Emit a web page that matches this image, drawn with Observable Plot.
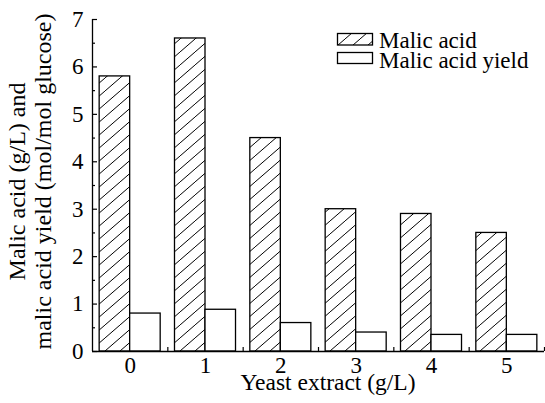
<!DOCTYPE html>
<html>
<head>
<meta charset="utf-8">
<script src="https://cdn.jsdelivr.net/npm/d3@7"></script>
<script src="https://cdn.jsdelivr.net/npm/@observablehq/plot@0.6"></script>
<style>
  html, body { margin: 0; padding: 0; background: #fff; }
  #chart svg { display: block; }
</style>
</head>
<body>
<div id="chart"></div>
<script>
// ---- data ----
const categories = [0, 1, 2, 3, 4, 5];               // Yeast extract (g/L)
const malicAcid = [5.8, 6.6, 4.5, 3.0, 2.9, 2.5];    // g/L
const malicAcidYield = [0.8, 0.88, 0.6, 0.4, 0.35, 0.35]; // mol/mol glucose
const yTickValues = [0, 1, 2, 3, 4, 5, 6, 7];
const yMinorTicks = [0.5, 1.5, 2.5, 3.5, 4.5, 5.5, 6.5];
const xBoundaryTicks = [0.5, 1.5, 2.5, 3.5, 4.5, 5.5];
const seriesNames = ["Malic acid", "Malic acid yield"];
const xTitle = "Yeast extract (g/L)";
const yTitleLines = ["Malic acid (g/L) and", "malic acid yield (mol/mol glucose)"];

const rows = categories.map((c, i) => ({cat: c, malic: malicAcid[i], yield: malicAcidYield[i]}));

const W = 545, H = 403;
const mL = 92, mR = 1, mT = 19, mB = 52;
const frameW = W - mL - mR, frameH = H - mT - mB;
const half = 0.405;
const FONT = "'Liberation Serif', 'Times New Roman', serif";

const chart = Plot.plot({
  width: W, height: H,
  marginLeft: mL, marginRight: mR, marginTop: mT, marginBottom: mB,
  style: {fontFamily: FONT, fontSize: "23px", color: "black", background: "white"},
  x: {domain: [-0.5, 5.5], axis: null},
  y: {domain: [0, 7], axis: null},
  marks: [
    Plot.rectY(rows, {x1: d => d.cat - half, x2: d => d.cat, y: "malic", fill: "url(#hatch)", stroke: "black", strokeWidth: 1.3}),
    Plot.rectY(rows, {x1: d => d.cat, x2: d => d.cat + half, y: "yield", fill: "white", stroke: "black", strokeWidth: 1.3}),
    Plot.ruleY(yTickValues, {insetRight: frameW - 5, stroke: "black", strokeWidth: 1.2}),
    Plot.ruleY(yMinorTicks, {insetRight: frameW - 3, stroke: "black", strokeWidth: 1.2}),
    Plot.ruleX(xBoundaryTicks, {insetTop: frameH - 4, stroke: "black", strokeWidth: 1.2}),
    Plot.ruleY([0], {stroke: "black", strokeWidth: 1.3}),
    Plot.ruleX([-0.5], {stroke: "black", strokeWidth: 1.3}),
    Plot.axisY({ticks: yTickValues, tickSize: 0, tickPadding: 9, label: null, fontSize: 23, tickFormat: d => String(d)}),
    Plot.axisX({ticks: categories, tickSize: 0, tickPadding: 5, label: null, tickFormat: d => String(d), fontSize: 23})
  ]
});

document.getElementById("chart").appendChild(chart);

const svg = d3.select(chart);
const defs = svg.insert("defs", ":first-child");
const pat = defs.append("pattern")
  .attr("id", "hatch")
  .attr("patternUnits", "userSpaceOnUse")
  .attr("width", 15).attr("height", 13);
pat.append("path")
  .attr("d", "M0,13 L15,0 M-15,13 L0,0 M15,13 L30,0")
  .attr("stroke", "black").attr("stroke-width", 1).attr("fill", "none");

// axis titles
svg.append("text")
  .attr("x", 328).attr("y", 390)
  .attr("text-anchor", "middle")
  .style("font-family", FONT).style("font-size", "23.5px")
  .text(xTitle);

const yt = svg.append("g").attr("transform", "translate(0,181.5) rotate(-90)")
  .style("font-family", FONT).style("font-size", "24px");
yt.append("text").attr("x", 0).attr("y", 25).attr("text-anchor", "middle").text(yTitleLines[0]);
yt.append("text").attr("x", 0).attr("y", 51).attr("text-anchor", "middle").text(yTitleLines[1]);

// legend
const lg = svg.append("g").style("font-family", FONT).style("font-size", "23px");
lg.append("rect").attr("x", 337.5).attr("y", 33.5).attr("width", 35).attr("height", 11.5)
  .attr("fill", "url(#hatch)").attr("stroke", "black").attr("stroke-width", 1.3);
lg.append("rect").attr("x", 337.5).attr("y", 52.5).attr("width", 35).attr("height", 11)
  .attr("fill", "white").attr("stroke", "black").attr("stroke-width", 1.3);
lg.append("text").attr("x", 379).attr("y", 47.5).attr("text-anchor", "start").text(seriesNames[0]);
lg.append("text").attr("x", 379).attr("y", 67.5).attr("text-anchor", "start").text(seriesNames[1]);
</script>
</body>
</html>
